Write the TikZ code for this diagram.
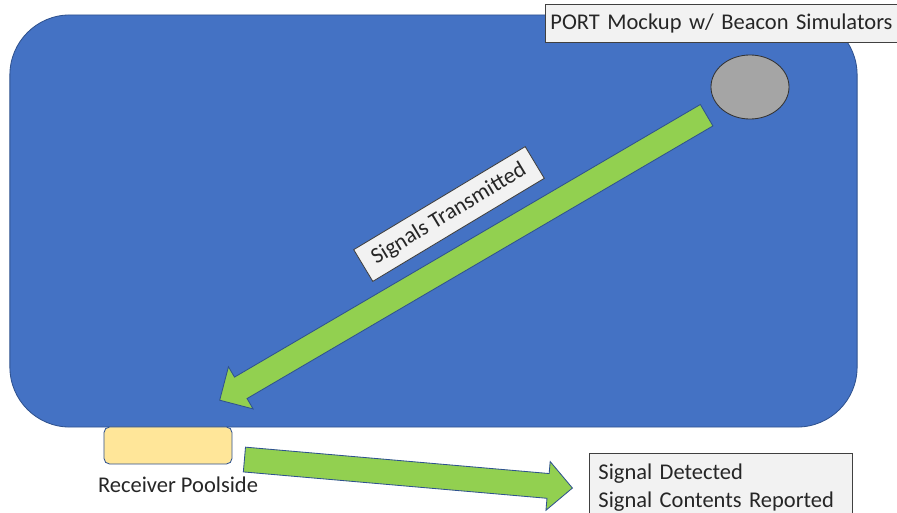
\documentclass[tikz,border=0pt]{standalone}
\usepackage{fontspec}
\setmainfont{Carlito}
\usetikzlibrary{positioning, calc, shapes.geometric, shapes.arrows}

\definecolor{poolblue}{HTML}{4472C4}
\definecolor{edgeblue}{HTML}{2F528F}
\definecolor{signalgreen}{HTML}{92D050}
\definecolor{beacongray}{HTML}{A5A5A5}
\definecolor{boxgray}{HTML}{F2F2F2}
\definecolor{receiveryellow}{HTML}{FFE699}

\begin{document}
\begin{tikzpicture}[
            x=0.025cm, y=-0.025cm,
            every node/.style={font=\fontsize{16pt}{20pt}\selectfont, text=black!85},
            pool/.style={draw=edgeblue, fill=poolblue, rounded corners=1.5cm, minimum width=21.175cm, minimum height=10.3cm, line width=0.6pt},
            beacon/.style={ellipse, draw=black!80, fill=beacongray, minimum width=1.95cm, minimum height=1.6cm, line width=0.6pt},
            label box/.style={draw=black!75, fill=boxgray, line width=0.6pt},
            receiver/.style={draw=edgeblue, fill=receiveryellow, rounded corners=4pt, minimum width=3.2cm, minimum height=0.925cm, line width=0.6pt},
            fat arrow/.style={single arrow, draw=edgeblue, fill=signalgreen, line width=0.6pt, inner sep=0.3cm, single arrow head extend=0.3cm, single arrow tip angle=90, anchor=tail}
        ]
        \path[use as bounding box, fill=white] (0,0) rectangle (897,513);

        \node[pool] (pool) at (433.5,221) {};
        \node[beacon] (beacon) at (750,87) {};
        \node[label box, anchor=west, minimum height=0.95cm, text width=8.75cm, inner xsep=0.125cm, align=left] (portlabel) at (545,23.5) {PORT Mockup w/ Beacon Simulators};

        \node[receiver] (receiver) at (168,445.5) {};
        \node (receiverlabel) at (178,485) {Receiver Poolside};
        \node[label box, anchor=north west, text width=6.125cm, inner xsep=0.225cm, inner ysep=5.5pt, minimum height=1.7cm, align=left] (reported) at (589,453) {Signal Detected\\Signal Contents Reported};

        % signal arrows
        \coordinate (txtail) at (707,115);
        \coordinate (txtip) at (220,400);
        \coordinate (rxtail) at (244,459.5);
        \coordinate (rxtip) at (572,488);
        \path let \p1=($(txtip)-(txtail)$) in
            node[fat arrow, minimum height={veclen(\x1,\y1)}, rotate={atan2(\y1,\x1)}] (txarrow) at (txtail) {};
        \path let \p1=($(rxtip)-(rxtail)$) in
            node[fat arrow, minimum height={veclen(\x1,\y1)}, rotate={atan2(\y1,\x1)}] (rxarrow) at (rxtail) {};

        \node[label box, rotate=31, minimum width=5cm, minimum height=0.925cm] (txlabel) at (449,214) {Signals Transmitted};
        \end{tikzpicture}
\end{document}
